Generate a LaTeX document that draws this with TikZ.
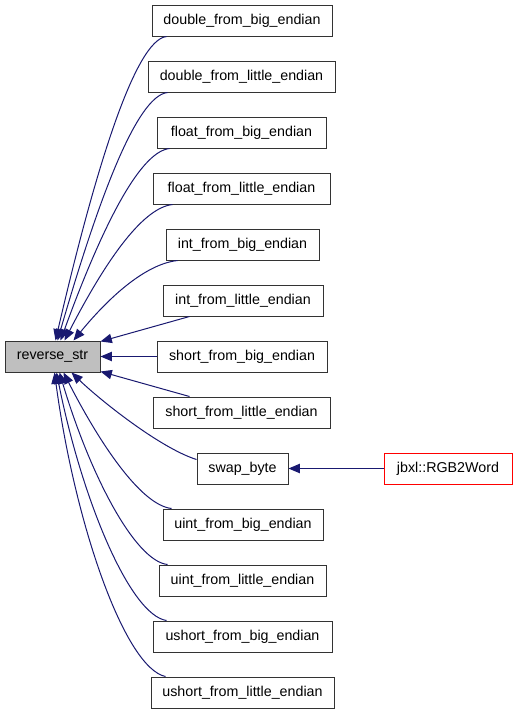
\documentclass[tikz,border=0pt]{standalone}
\usepackage{fontspec}
\setmainfont{Liberation Sans}
\usetikzlibrary{arrows.meta,calc}
\definecolor{edgecol}{HTML}{191970}
\definecolor{rsfill}{HTML}{BFBFBF}
\begin{document}
\begin{tikzpicture}[x=0.75pt,y=-0.75pt,
  box/.style={draw=black!80, line width=0.75pt, minimum height=23.25pt, inner sep=0pt,
    font=\fontsize{10.7}{12}\selectfont, fill=white},
  edge/.style={draw=edgecol, line width=0.75pt, -{Triangle[length=8.5pt,width=7pt]}},
]
\useasboundingbox (0,0) rectangle (517,715);
\node[box, fill=rsfill, minimum width=71.25pt] (rs) at (52.5,356.5) {reverse\_str};
\node[box, minimum width=135pt]    (n1)  at (242,20.5)   {double\_from\_big\_endian};
\node[box, minimum width=140.25pt] (n2)  at (241.5,76.5) {double\_from\_little\_endian};
\node[box, minimum width=126.75pt] (n3)  at (241.5,132.5) {float\_from\_big\_endian};
\node[box, minimum width=132.75pt] (n4)  at (241.5,188.5) {float\_from\_little\_endian};
\node[box, minimum width=114.75pt] (n5)  at (242.5,244.5) {int\_from\_big\_endian};
\node[box, minimum width=120pt]    (n6)  at (243,300.5)  {int\_from\_little\_endian};
\node[box, minimum width=127.5pt]  (n7)  at (242,356.5)  {short\_from\_big\_endian};
\node[box, minimum width=132.75pt] (n8)  at (241.5,412.5) {short\_from\_little\_endian};
\node[box, minimum width=68.25pt]  (n9)  at (242.5,468.5) {swap\_byte};
\node[box, minimum width=120pt]    (n10) at (243,524.5)  {uint\_from\_big\_endian};
\node[box, minimum width=125.25pt] (n11) at (242.5,580.5) {uint\_from\_little\_endian};
\node[box, minimum width=134.25pt] (n12) at (242.5,636.5) {ushort\_from\_big\_endian};
\node[box, minimum width=137.25pt] (n13) at (242.5,692.5) {ushort\_from\_little\_endian};
\node[box, draw=red, minimum width=96pt] (jb) at (448,468.5) {jbxl::RGB2Word};

% top group
\draw[edge] ($(n1.south west)+(15,0)$) .. controls (135,40) and (95,170) .. ($(rs.north west)+(51,0)$);
\draw[edge] ($(n2.south west)+(20,0)$) .. controls (136,96) and (97,204) .. ($(rs.north west)+(53,0)$);
\draw[edge] ($(n3.south west)+(13,0)$) .. controls (138,152) and (99,235) .. ($(rs.north west)+(56,0)$);
\draw[edge] ($(n4.south west)+(20,0)$) .. controls (141,208) and (103,266) .. ($(rs.north west)+(60,0)$);
\draw[edge] ($(n5.south west)+(12,0)$) .. controls (146,264) and (110,296) .. ($(rs.north west)+(69,0)$);
% straight
\draw[edge] ($(n6.south west)+(27,0)$) -- ($(rs.north east)+(0,1)$);
\draw[edge] (n7.west) -- (rs.east);
\draw[edge] ($(n8.north west)+(37,0)$) -- ($(rs.south east)+(0,-1)$);
% bottom group
\draw[edge] ($(n9.west)+(0,-9)$) .. controls (160,448) and (100,400) .. ($(rs.south west)+(67,0)$);
\draw[edge] ($(n10.north west)+(9,0)$) .. controls (140,505) and (98,440) .. ($(rs.south west)+(59,0)$);
\draw[edge] ($(n11.north west)+(9,0)$) .. controls (135,561) and (90,475) .. ($(rs.south west)+(55,0)$);
\draw[edge] ($(n12.north west)+(14,0)$) .. controls (130,615) and (82,500) .. ($(rs.south west)+(52,0)$);
\draw[edge] ($(n13.north west)+(15,0)$) .. controls (125,668) and (75,525) .. ($(rs.south west)+(50,0)$);
% jbxl
\draw[edge] (jb.west) -- (n9.east);
\end{tikzpicture}
\end{document}
